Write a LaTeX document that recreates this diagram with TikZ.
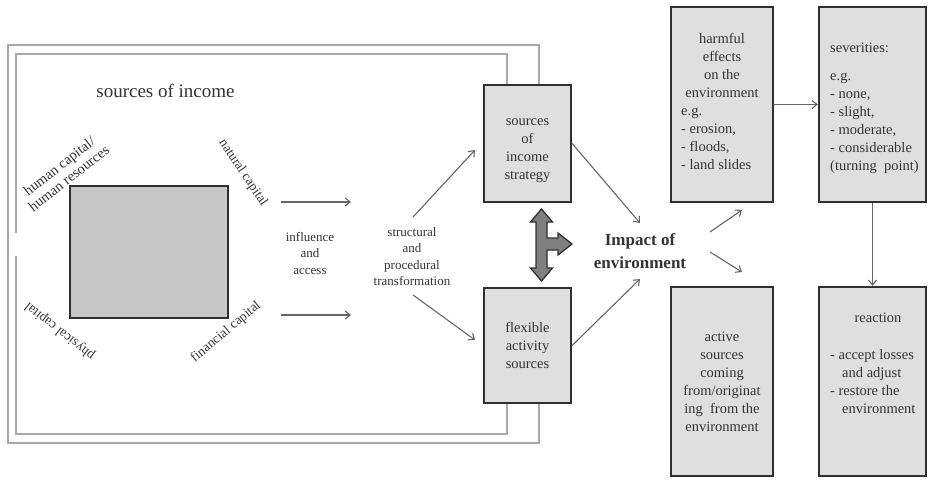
\documentclass[tikz,border=0pt]{standalone}
\usepackage{fontspec}
\setmainfont{Liberation Serif}
\usetikzlibrary{arrows.meta}
\definecolor{txt}{HTML}{333333}
\definecolor{framec}{HTML}{A8A8A8}
\definecolor{boxfill}{HTML}{DFDFDF}
\definecolor{sqfill}{HTML}{C6C6C6}
\definecolor{boxline}{HTML}{303030}
\definecolor{arr}{HTML}{666666}
\definecolor{bigarr}{HTML}{808080}
\begin{document}
\begin{tikzpicture}[x=1pt,y=-1pt,
  box/.style={draw=boxline, line width=2.3pt, fill=boxfill, inner sep=0pt, text=txt,
              font=\fontsize{14.5}{18}\selectfont},
  boxtext/.style={text=txt, font=\fontsize{14.5}{18}\selectfont, inner sep=0pt},
  lbl/.style={text=txt, font=\fontsize{13}{16.5}\selectfont, align=center, inner sep=0pt},
  captxt/.style={text=txt, font=\fontsize{13.5}{15}\selectfont, align=center, inner sep=0pt},
  arw/.style={draw=arr, line width=1.1pt, -{Straight Barb[length=5pt,width=8pt]}},
  frm/.style={draw=framec, line width=1.5pt},
]
\useasboundingbox (0,0) rectangle (933,481);
% frame
\draw[frm] (539,85) -- (539,45) -- (8,45) -- (8,443) -- (539,443) -- (539,403);
\draw[frm] (507,85) -- (507,54) -- (16,54) -- (16,233);
\draw[frm] (16,256) -- (16,434) -- (507,434) -- (507,403);
% left part
\node[text=txt, font=\fontsize{19}{22}\selectfont, inner sep=0pt] (title) at (165.5,91) {sources of income};
\node[draw=boxline, line width=2.3pt, fill=sqfill, minimum width=158pt, minimum height=132pt] (sq) at (149,252) {};
\node[captxt, font=\fontsize{14.5}{15.5}\selectfont, rotate=38] (human) at (64,172) {human capital/\\human resources};
\node[captxt, rotate=-56] (natural) at (243,173) {natural capital};
\node[captxt, rotate=142] (physical) at (60,331) {physical capital};
\node[captxt, rotate=40] (financial) at (226,332) {financial capital};
\coordinate (a1s) at (281,202); \coordinate (a1e) at (351,202);
\coordinate (a2s) at (281,315); \coordinate (a2e) at (351,315);
\draw[arw] (a1s) -- (a1e);
\draw[arw] (a2s) -- (a2e);
\node[lbl] (infl) at (310,253) {influence\\and\\access};
\node[lbl] (struct) at (412,256.5) {structural\\and\\procedural\\transformation};
% middle boxes
\node[box, minimum width=87pt, minimum height=117pt] (strat) at (527.5,143.5) {};
\node[boxtext, align=center, anchor=north] (strattxt) at (527.5,113) {\strut sources\\of\\income\\strategy};
\node[box, align=center, minimum width=87pt, minimum height=115pt] (flex) at (527.5,345.5) {flexible\\activity\\sources};
\coordinate (t1s) at (413,217); \coordinate (t1e) at (475,150);
\coordinate (t2s) at (413,295); \coordinate (t2e) at (475,340);
\draw[arw] (t1s) -- (t1e);
\draw[arw] (t2s) -- (t2e);
% big T arrow
\draw[fill=bigarr, draw=boxline, line width=1.3pt, line join=miter]
  (541.5,209) -- (552.5,222) -- (547,222) -- (547,238) -- (558,238) -- (558,233)
  -- (572,244) -- (558,255) -- (558,250) -- (547,250) -- (547,268) -- (552.5,268)
  -- (541.5,281) -- (530.5,268) -- (536,268) -- (536,222) -- (530.5,222) -- cycle;
% impact
\node[text=txt, font=\fontsize{17}{23}\selectfont\bfseries, align=center, inner sep=0pt] (impact) at (640,251.5) {Impact of\\environment};
\coordinate (i1e) at (640,223);
\coordinate (i2e) at (640,279);
\draw[arw] (strat.east) -- (i1e);
\draw[arw] (flex.east) -- (i2e);
\coordinate (o1s) at (710,232); \coordinate (o1e) at (742,210);
\coordinate (o2s) at (710,252); \coordinate (o2e) at (742,272);
\draw[arw] (o1s) -- (o1e);
\draw[arw] (o2s) -- (o2e);
% right boxes
\node[box, minimum width=102pt, minimum height=195pt] (harm) at (722,104.5) {};
\node[boxtext, align=center, anchor=north] (harmtop) at (722,31) {\strut harmful\\effects\\on the\\environment};
\node[boxtext, align=left, anchor=north west] (harmlist) at (681,103) {\strut e.g.\\- erosion,\\- floods,\\- land slides};
\node[box, minimum width=107pt, minimum height=195pt] (sev) at (872.5,104.5) {};
\node[boxtext, align=left, anchor=north west] (sevtxt) at (830,39.7)
  {\strut severities:\\[10pt]e.g.\\- none,\\- slight,\\- moderate,\\- considerable\\(turning\ \ point)};
\node[box, align=center, minimum width=102pt, minimum height=189pt] (active) at (722,381.5)
  {active\\sources\\coming\\from/originat\\ing\ \ from the\\environment};
\node[box, minimum width=107pt, minimum height=189pt] (react) at (872.5,381.5) {};
\node[boxtext, anchor=north] (reacthead) at (878,309.7) {\strut reaction};
\node[boxtext, align=left, anchor=north west] (reactlist) at (830,346.7)
  {\strut - accept losses\\\hspace*{12pt}and adjust\\- restore the\\\hspace*{12pt}environment};
\draw[arw] (harm.east) -- (sev.west);
\draw[arw] (sev.south) -- (react.north);
\end{tikzpicture}
\end{document}
